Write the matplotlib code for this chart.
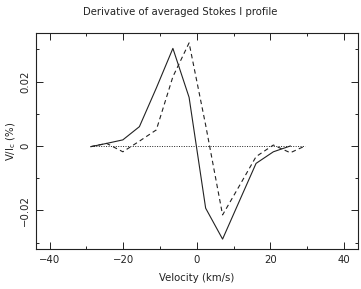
import numpy as np
import matplotlib
matplotlib.use("Agg")
import matplotlib.pyplot as plt
from matplotlib.ticker import MultipleLocator

# velocity grid (km/s) and the two profiles (V/Ic in %)
velocity = [-28.8, -24.5, -20.1, -15.6, -11.0, -6.5, -2.1, 2.4, 7.0, 11.6, 16.1, 20.8, 25.4, 29.4]
solid_v = [-0.0002, 0.0008, 0.0019, 0.0060, 0.0180, 0.0303, 0.0151, -0.0193, -0.0289, -0.0170, -0.0054, -0.0018, 0.0, np.nan]
dashed_v = [-0.0002, 0.0008, -0.0018, 0.0015, 0.0050, 0.0215, 0.0320, 0.0065, -0.0214, -0.0123, -0.0033, 0.0003, -0.0021, 0.0]
zero_line = [0.0] * len(velocity)

ink = "#222222"
fs = 7.3

fig = plt.figure(figsize=(3.61, 2.89), dpi=100)
ax = fig.add_axes([0.0997, 0.137, 0.892, 0.748])

ax.plot(velocity, solid_v, color=ink, lw=0.8, ls="-")
ax.plot(velocity, dashed_v, color=ink, lw=0.8, ls=(0, (4, 3)))
ax.plot(velocity, zero_line, color=ink, lw=0.7, ls=(0, (1, 1.5)))

ax.set_xlim(-43.7, 43.8)
ax.set_ylim(-0.0321, 0.035)

ax.xaxis.set_major_locator(MultipleLocator(20))
ax.xaxis.set_minor_locator(MultipleLocator(10))
ax.yaxis.set_major_locator(MultipleLocator(0.02))
ax.yaxis.set_minor_locator(MultipleLocator(0.01))
ax.yaxis.set_major_formatter(plt.FuncFormatter(lambda v, p: "0" if abs(v) < 1e-9 else f"{v:.2f}".replace("-", "\u2212")))

ax.tick_params(which="both", direction="in", top=True, right=True, colors=ink, labelsize=fs, width=0.7)
ax.tick_params(which="major", length=5, pad=4)
ax.tick_params(which="minor", length=2.5)
for lbl in ax.get_yticklabels():
    lbl.set_rotation(90)
    lbl.set_va("center")
for s in ax.spines.values():
    s.set_color(ink)
    s.set_linewidth(0.8)

ax.set_xlabel("Velocity (km/s)", fontsize=fs, color=ink, labelpad=6)
ax.set_ylabel(r"V/I$_{\rm c}$ (%)", fontsize=fs, color=ink, labelpad=2)
fig.text(0.5, 0.975, "Derivative of averaged Stokes I profile", ha="center", va="top", fontsize=fs, color=ink)

fig.savefig("out.png", dpi=100)
